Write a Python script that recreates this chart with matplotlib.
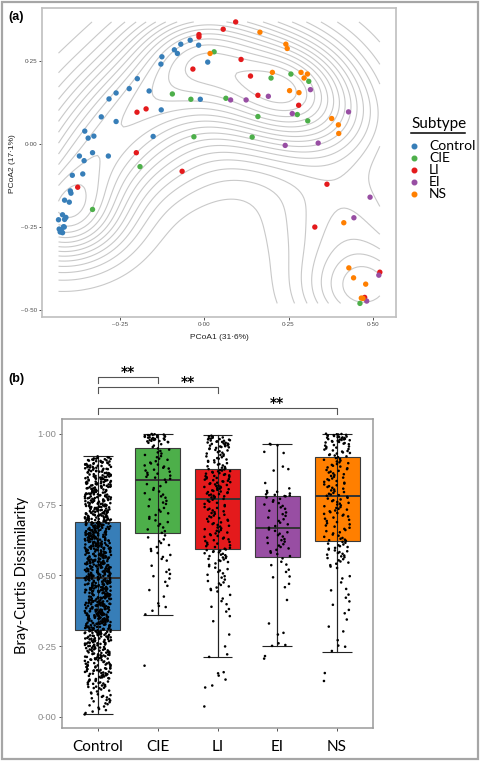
import numpy as np
import matplotlib
matplotlib.use("Agg")
import matplotlib.pyplot as plt
from matplotlib.lines import Line2D
from matplotlib.patches import Rectangle
from matplotlib.ticker import MaxNLocator

# ---- data: panel (a) PCoA ----
groups = ["Control", "CIE", "LI", "EI", "NS"]
colors = ["#377EB8", "#4DAF4A", "#E41A1C", "#984EA3", "#FF7F00"]

control_x = [-0.017, -0.042, -0.070, -0.089, -0.080, -0.126, -0.129, 0.010, -0.199, -0.223,
             -0.262, -0.283, -0.164, -0.128, -0.012, -0.306, -0.262, -0.355, -0.345, -0.328,
             -0.332, -0.371, -0.357, -0.285, -0.152, -0.392, -0.361, -0.398, -0.396, -0.415,
             -0.401, -0.421, -0.411, -0.433, -0.415, -0.418, -0.431, -0.425, -0.421, -0.416, -0.428]
control_y = [0.298, 0.313, 0.301, 0.284, 0.273, 0.263, 0.241, 0.247, 0.197, 0.167,
             0.154, 0.136, 0.160, 0.103, 0.135, 0.082, 0.068, 0.039, 0.018, 0.024,
             -0.026, -0.036, -0.050, -0.036, 0.023, -0.094, -0.090, -0.141, -0.148, -0.169,
             -0.175, -0.213, -0.221, -0.228, -0.227, -0.249, -0.256, -0.259, -0.267, -0.250, -0.265]
cie_x = [-0.095, -0.040, -0.031, 0.029, 0.198, 0.257, 0.310, 0.064, 0.159, 0.276, 0.307, 0.142, -0.191, -0.332, 0.462]
cie_y = [0.151, 0.135, 0.022, 0.278, 0.199, 0.211, 0.189, 0.138, 0.083, 0.089, 0.070, 0.021, -0.068, -0.197, -0.480]
li_x = [-0.016, -0.016, -0.034, -0.200, -0.173, -0.202, 0.093, 0.056, 0.109, 0.137, 0.159, 0.280,
        -0.066, -0.376, 0.364, 0.328, 0.521, 0.476]
li_y = [0.330, 0.323, 0.226, 0.096, 0.106, -0.026, 0.368, 0.346, 0.255, 0.205, 0.147, 0.117,
        -0.082, -0.130, -0.121, -0.250, -0.386, -0.462]
ei_x = [0.078, 0.124, 0.190, 0.315, 0.261, 0.428, 0.338, 0.240, 0.492, 0.444, 0.518, 0.482]
ei_y = [0.133, 0.133, 0.144, 0.164, 0.092, 0.097, 0.003, -0.004, -0.160, -0.222, -0.395, -0.473]
ns_x = [0.017, 0.165, 0.242, 0.246, 0.202, 0.287, 0.306, 0.296, 0.253, 0.281, 0.378, 0.398, 0.399,
        0.414, 0.429, 0.443, 0.479, 0.466, 0.471]
ns_y = [0.273, 0.337, 0.301, 0.288, 0.216, 0.216, 0.211, 0.199, 0.161, 0.155, 0.077, 0.058, 0.032,
        -0.237, -0.373, -0.403, -0.422, -0.464, -0.465]

pcoa_xticks = [-0.25, 0.0, 0.25, 0.5]
pcoa_xticklabels = ["\u20130\u00b725", "0\u00b700", "0\u00b725", "0\u00b750"]
pcoa_yticks = [-0.5, -0.25, 0.0, 0.25]
pcoa_yticklabels = ["\u20130\u00b750", "\u20130\u00b725", "0\u00b700", "0\u00b725"]

# ---- data: panel (b) Bray-Curtis (values in per-mille) ----
control_bc = """9 14 19 24 28 33 37 41 45 48
52 55 58 60 63 66 69 71 74 77 80 83 86 90 93 97
101 103 106 108 111 113 115 118 120 122 125 127 129 132 134 137 139 141 143 145 147 149
150 152 154 155 157 159 161 163 164 166 168 170 172 173 175 177 179 181 182 184 186 188 190 192 194 196 198
200 202 203 205 206 208 210 211 213 215 216 218 219 221 223 224 226 228 229 231 233 234 236 238 239 241 242 244 246 247 249
250 251 253 254 256 257 259 260 262 263 264 266 267 269 270 272 273 274 276 277 279 280 282 283 284 286 287 289 290 292 293 294 296 297 299
300 301 303 304 305 306 308 309 310 311 313 314 315 317 318 319 320 322 323 324 326 327 328 329 331 332 333 335 336 337 338 340 341 342 344 345 346 347 348 349
350 351 352 354 355 356 358 359 360 361 363 364 365 366 368 369 370 372 373 374 375 377 378 379 381 382 383 384 386 387 388 390 391 392 393 395 396 397 398 399
400 402 403 404 405 407 408 409 411 412 413 414 416 417 418 419 421 422 423 425 426 427 428 430 431 432 433 435 436 437 439 440 441 442 444 445 446 447 448 449
450 451 453 454 455 456 458 459 460 462 463 464 465 467 468 469 470 472 473 474 476 477 478 479 481 482 483 485 486 487 488 490 491 492 494 495 496 497 498 499
500 501 502 504 505 506 507 509 510 511 513 514 515 516 518 519 520 522 523 524 525 527 528 529 531 532 533 534 536 537 538 540 541 542 543 545 546 547 548 549
550 552 553 554 555 557 558 559 561 562 563 564 566 567 568 570 571 572 573 575 576 577 579 580 581 582 584 585 586 588 589 590 591 593 594 595 596 597 598 599
600 601 603 604 605 606 608 609 610 612 613 614 615 617 618 619 621 622 623 624 626 627 628 630 631 632 633 635 636 637 639 640 641 642 644 645 646 647 648 649
650 651 652 654 655 656 658 659 660 661 663 664 665 667 668 669 670 672 673 674 676 677 678 679 681 682 683 685 686 687 688 690 691 692 694 695 696 697 698 699
700 701 703 704 705 707 708 710 711 712 714 715 716 718 719 720 722 723 724 726 727 729 730 731 733 734 735 737 738 740 741 742 744 745 746 747 748 749
750 752 753 755 756 758 759 760 762 763 765 766 768 769 770 772 773 775 776 778 779 780 782 783 785 786 788 789 790 792 793 795 796 798 799
800 802 803 805 807 808 810 812 813 815 816 818 820 821 823 825 826 828 830 831 833 835 836 838 840 841 843 845 846 847 848 849
850 852 854 855 857 859 861 862 864 866 868 869 871 873 875 876 878 880 882 883 885 887 889 890 892 894 896 898
900 902 903 905 907 908 910 912 913 915 917 920
102 107 112 117 121 126 131 136 140 146
151 153 156 160 162 165 169 171 176 178 183 185 189 193
201 204 207 209 212 214 217 220 222 225 227 230 232 235 237 240 243 245
252 255 258 259 261 265 268 269 271 275 277 278 281 284 285 288 290 291 294 295 297 298
301 303 304 306 308 309 311 313 314 316 318 319 321 323 324 326 328 329 331 333 334 336 338 339 341 343 344 346 348 349
351 353 354 356 358 359 361 363 364 366 368 369 371 373 374 376 378 379 381 383 384 386 388 389 391 393 394 396 398 399
401 403 404 406 408 409 411 413 414 416 418 419 421 423 424 426 428 429 431 433 434 436 438 439 441 443 444 446 448 449
451 453 454 456 458 459 461 463 464 466 468 469 471 473 474 476 478 479 481 483 484 486 488 489 491 493 494 496 498 499
501 503 504 506 508 509 511 513 514 516 518 519 521 523 524 526 528 529 531 533 534 536 538 539 541 543 544 546 548 549
551 553 554 556 558 559 561 563 564 566 568 569 571 573 574 576 578 579 581 583 584 586 588 589 591 593 594 596 598 599
601 603 604 606 608 609 611 613 614 616 618 619 621 623 624 626 628 629 631 633 634 636 638 639 641 643 644 646 648 649
651 653 654 656 658 659 661 663 664 666 668 669 671 673 674 676 678 679 681 683 684 686 688 689 691 693 694 696 698 699
701 703 705 706 708 710 712 713 715 717 719 720 722 724 726 727 729 731 733 734 736 738 740 741 743 745 747 748
751 753 755 757 759 761 763 764 766 768 770 772 774 776 778 780 782 784 786 787 789 791 793 795 797 799
801 803 805 807 809 811 813 815 817 819 821 823 825 827 829 831 833 835 837 839 841 843 845 847
851 853 856 858 861 863 866 868 871 873 876 878 881 883 886 888 891 893 896 898
901 904 906 909 911 916"""
cie_bc = """181 362 375 388 392 401 425 448 463 477 489 497 505 512 520 534
552 558 565 572 579 586 593 600 607 614 620 627 634 641
650 656 662 669 675 681 688 694 700 706 713 719 725 731 738 744
752 757 763 768 774 779 785 790 796 802 808 815 822 829
838 841 845 848 852 855 859 862 866 870 873 877 880 884 888 891 895 898
903 908 912 917 921 925 930 934 939 944 948 953 958 963
968 970 971 973 974 975 977 978 979 980 981 982 983 985 986 987 988 989 990 991 992 993 994 995 996 997 998 999"""
li_bc = """37 104 111 132 146 154 158 212 221 249 291 338 356
372 381 389 398 409 418 431 443 448 452 457 461 466 471 475 480 485
492 497 502 507 512 517 522 527 532 537 542 547
551 553 556 558 561 563 566 568 571 573 576 578 581 583 585 587 589 591
594 597 600 603 606 609 612 615 618 621 624 627 630 633 636 639 642 645 648 651
654 657 660 663 666 669 672 675 678 681 684 687 690 693 696 699 702 705 708 711
714 717 720 723 726 729 732 735 738 741 744 748 752 756 760 764 767 770
773 775 777 779 781 783 785 787 789 791 793 794 796 798 800 802 804 806 808 810
812 813 815 817 819 821 823 825 827 829 831 832 834 836 838 840 842 844 846 848
850 851 853 855 857 859 861 863 865 867 868 870 872 874 875
878 880 883 885 888 891 893 896 899 901 904 906 909 912 914 917 920 922 925 927 930 933 935 938 941 943 946 948
950 952 953 955 956 958 959 961 962 964 965 966 968 969 971 972 973 975 976 977 979 980 981 983 984 986 987 989 991 993"""
ei_bc = """206 215 251 254 260 291 297 330 413 458 470 493 496 512 520 536 538 548 560
568 575 580 585 590 595 600 605 610 614 619 624 628 633 637 642 647 652 657 662
668 674 680 686 692 698 704 710 716 722 728 735 740 745 750 755 760 765 770 775
779 780 782 784 786 789 792 795 798 807 826 870 875 884 932 936 959 962 964"""
ns_bc = """127 155 233 248 252 271 302 319 344 366 378 396 408 421 432 447 452 475 489 497
526 531 536 541 545 549 553 557 561 564 567 570 573 576 579 582 585 588 591 594 597 600 603 606 609 612 615 618
622 624 626 629 632 636 640 644 648 652 656 660 664 668 672 676 680 684 688 692 696 700 704 708 711 714 717 720
723 726 729 732 735 738 741 744 747 750 753 756 759 762 765 768 771 774 777
781 783 785 788 791 794 797 800 803 806 809 812 815 818 821 824 827 830 833 836 839 842 845 848 851 854 857
860 863 866 869 872 875 878 881 884 887 890 893 896 899 902 905 908 911 914 917
920 923 925 927 930 932 934 937 939 941 944 946 948 951 953 955 958 960
963 965 967 969 971 972 974 975 977 978 979 980 981 982 984 985 986 987 988 989 990 992 993 994 995 996 997 998 999 1000"""
bc_values = [control_bc, cie_bc, li_bc, ei_bc, ns_bc]

# box statistics
bc_whislo = [0.009, 0.361, 0.212, 0.250, 0.231]
bc_q1 = [0.307, 0.648, 0.593, 0.565, 0.622]
bc_med = [0.489, 0.835, 0.771, 0.666, 0.781]
bc_q3 = [0.688, 0.948, 0.876, 0.779, 0.918]
bc_whishi = [0.921, 1.000, 0.994, 0.964, 1.000]

bc_yticks = [0.0, 0.25, 0.5, 0.75, 1.0]
bc_yticklabels = ["0\u00b700", "0\u00b725", "0\u00b750", "0\u00b775", "1\u00b700"]

# significance brackets (group index pairs)
sig_pairs = [(1, 2), (1, 3), (1, 5)]
sig_levels = [1.200, 1.165, 1.091]
sig_star_x = [1.5, 2.5, 4.0]
sig_labels = ["**", "**", "**"]


def bw_nrd(v):
    q1, q3 = np.percentile(v, [25, 75])
    return 4 * 1.06 * min(np.std(v, ddof=1), (q3 - q1) / 1.34) * len(v) ** -0.2


def kde2d(x, y, n=100):
    hx, hy = bw_nrd(x) / 4, bw_nrd(y) / 4
    gx = np.linspace(x.min(), x.max(), n)
    gy = np.linspace(y.min(), y.max(), n)
    kx = np.exp(-0.5 * ((gx[:, None] - x[None, :]) / hx) ** 2) / (hx * np.sqrt(2 * np.pi))
    ky = np.exp(-0.5 * ((gy[:, None] - y[None, :]) / hy) ** 2) / (hy * np.sqrt(2 * np.pi))
    z = kx @ ky.T / len(x)
    return gx, gy, z


W, H = 480, 761
fig = plt.figure(figsize=(W / 100, H / 100), dpi=100)
fig.patches.append(Rectangle((2 / W, 2 / H), 1 - 4 / W, 1 - 4 / H, transform=fig.transFigure,
                             fill=False, edgecolor="#A6A6A6", linewidth=1.6))

# ---------------- panel (a) ----------------
ax1 = fig.add_axes([42 / W, 1 - 317 / H, 354 / W, 309 / H])
xs = [control_x, cie_x, li_x, ei_x, ns_x]
ys = [control_y, cie_y, li_y, ei_y, ns_y]
all_x = np.concatenate([np.array(v) for v in xs])
all_y = np.concatenate([np.array(v) for v in ys])
gx, gy, z = kde2d(all_x, all_y)
levels = MaxNLocator(nbins=22).tick_values(z.min(), z.max())
ax1.contour(gx, gy, z.T, levels=levels, colors="#C9C9C9", linewidths=0.8, zorder=1)

for gxs, gys, c in zip(xs, ys, colors):
    ax1.scatter(gxs, gys, s=15, color=c, edgecolors="none", zorder=3)

ax1.set_xlim(-0.482, 0.569)
ax1.set_ylim(-0.521, 0.410)
ax1.set_xticks(pcoa_xticks)
ax1.set_xticklabels(pcoa_xticklabels)
ax1.set_yticks(pcoa_yticks)
ax1.set_yticklabels(pcoa_yticklabels)
ax1.tick_params(labelsize=4.5, length=2, width=0.6, color="#333333", labelcolor="#4D4D4D", pad=1.5)
for t in ax1.get_xticklabels() + ax1.get_yticklabels():
    t.set_family("Liberation Sans")
for sp in ax1.spines.values():
    sp.set_color("#BFBFBF")
    sp.set_linewidth(1.2)

fig.text(219 / W, 1 - 337 / H, "PCoA1 (31\u00b76%)", ha="center", va="center",
         fontsize=6, family="Liberation Sans", color="#222222")
fig.text(13 / W, 1 - 164 / H, "PCoA2 (17\u00b71%)", ha="center", va="center", rotation=90,
         fontsize=6, family="Liberation Sans", color="#222222")
fig.text(8 / W, 1 - 17 / H, "(a)", ha="left", va="center", fontsize=9, fontweight="bold",
         family="Liberation Sans")

# legend
fig.text(411 / W, 1 - 124 / H, "Subtype", ha="left", va="center", fontsize=11, family="Lato")
fig.add_artist(Line2D([411 / W, 465 / W], [1 - 133 / H, 1 - 133 / H], color="black", lw=1.1,
                      transform=fig.transFigure))
for i, (g, c) in enumerate(zip(groups, colors)):
    yy = 1 - (146 + 12 * i) / H
    fig.add_artist(Line2D([414 / W], [yy], marker="o", markersize=3.3, color=c, lw=0,
                          transform=fig.transFigure))
    fig.text(429 / W, yy, g, ha="left", va="center", fontsize=10, family="Lato")

# ---------------- panel (b) ----------------
ax2 = fig.add_axes([62 / W, 1 - 728 / H, 311 / W, 309 / H])
stats = []
for i, g in enumerate(groups):
    stats.append({"label": g, "whislo": bc_whislo[i], "q1": bc_q1[i], "med": bc_med[i],
                  "q3": bc_q3[i], "whishi": bc_whishi[i], "fliers": []})
pos = np.arange(1, len(groups) + 1)
bp = ax2.bxp(stats, positions=pos, widths=0.75, patch_artist=True, showcaps=False,
             boxprops=dict(edgecolor="#3A3A3A", linewidth=0.8),
             medianprops=dict(color="#333333", linewidth=1.4),
             whiskerprops=dict(color="#222222", linewidth=0.8), zorder=2)
for patch, c in zip(bp["boxes"], colors):
    patch.set_facecolor(c)

# error-bar style whiskers over the boxes
ax2.vlines(pos, bc_whislo, bc_whishi, color="#222222", linewidth=0.8, zorder=3)
ax2.hlines(bc_whislo, pos - 0.25, pos + 0.25, color="#222222", linewidth=0.8, zorder=3)
ax2.hlines(bc_whishi, pos - 0.25, pos + 0.25, color="#222222", linewidth=0.8, zorder=3)

for i, s in enumerate(bc_values):
    vals = np.array(s.split(), dtype=float) / 1000.0
    k = np.arange(len(vals))
    off = ((k * k * 0.6180339887 + k * 0.4142135624) % 1.0 - 0.5) * 0.44
    ax2.scatter(pos[i] + off, vals, s=3.4, color="black", edgecolors="none", zorder=4)

ax2.set_xlim(0.4, 5.6)
ax2.set_ylim(-0.039, 1.052)
ax2.set_xticks(pos)
ax2.set_xticklabels(groups)
ax2.set_yticks(bc_yticks)
ax2.set_yticklabels(bc_yticklabels)
ax2.tick_params(axis="x", labelsize=11, length=2.5, width=0.7, color="#555555", pad=6)
ax2.tick_params(axis="y", labelsize=6.8, length=2.5, width=0.7, color="#555555",
                labelcolor="#8A8A8A", pad=1.5)
for t in ax2.get_xticklabels():
    t.set_family("Lato")
for t in ax2.get_yticklabels():
    t.set_family("Liberation Sans")
for sp in ax2.spines.values():
    sp.set_color("#9A9A9A")
    sp.set_linewidth(1.1)

for (a, b), lev, sx, lab in zip(sig_pairs, sig_levels, sig_star_x, sig_labels):
    ax2.plot([a, a, b, b], [lev - 0.02, lev, lev, lev - 0.02], color="#555555", lw=0.8,
             clip_on=False)
    ax2.text(sx, lev + 0.017, lab, ha="center", va="center", fontsize=10, fontweight="bold",
             family="DejaVu Sans", clip_on=False)

fig.text(22 / W, 1 - 575 / H, "Bray-Curtis Dissimilarity", ha="center", va="center",
         rotation=90, fontsize=10.5, family="Lato")
fig.text(8 / W, 1 - 379 / H, "(b)", ha="left", va="center", fontsize=9, fontweight="bold",
         family="Liberation Sans")

fig.savefig("out.png", dpi=100)
